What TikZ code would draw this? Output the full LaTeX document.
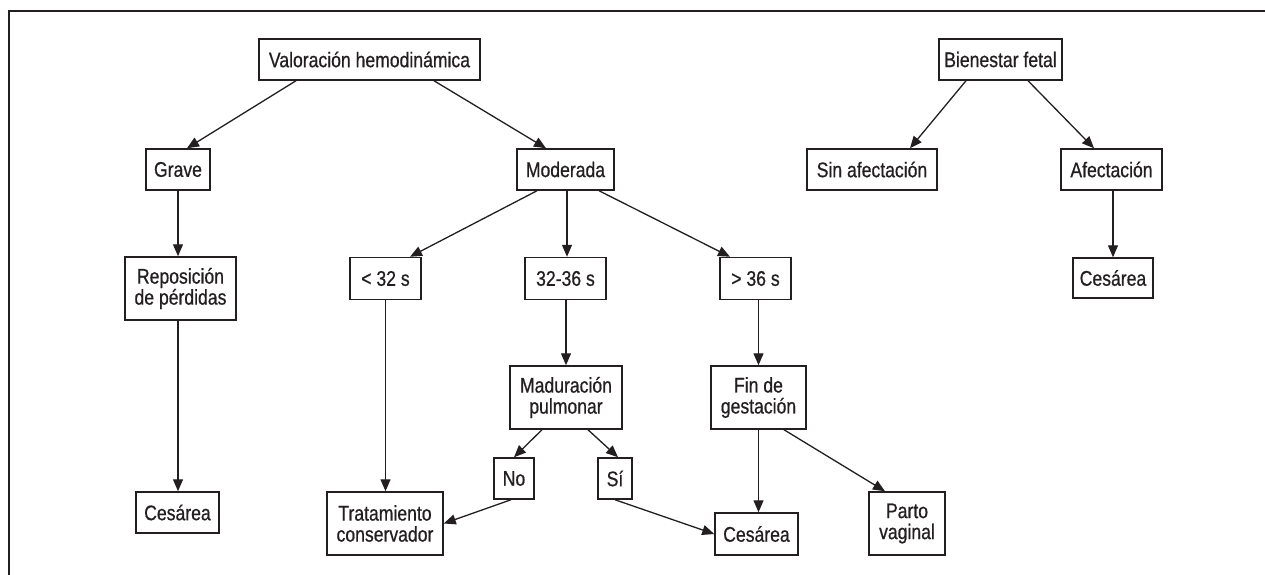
\documentclass[tikz,border=0pt]{standalone}
\usepackage{fontspec}
\setmainfont{Liberation Sans}[FakeStretch=0.83,FakeBold=0.6]
\usetikzlibrary{arrows.meta}
\definecolor{ink}{HTML}{231F20}
\begin{document}
\begin{tikzpicture}[x=1pt,y=-1pt,
  box/.style={draw=ink, line width=1.5pt, inner sep=0pt, align=center, text=ink,
    font=\fontsize{21.2}{21}\selectfont},
  arr/.style={draw=ink, line width=1.3pt, -{Triangle[length=12pt,width=10pt]}}]
\useasboundingbox (0,0) rectangle (1265,575);
\fill[white] (0,0) rectangle (1265,575);
\draw[ink, line width=1.3pt] (9,575) -- (9,11) -- (1265,11);
% nodes
\node[box, minimum width=221pt, minimum height=41pt] (val) at (369.5,59.5) {Valoración hemodinámica};
\node[box, minimum width=64pt, minimum height=41pt] (grave) at (178,169.5) {Grave};
\node[box, minimum width=97pt, minimum height=41pt] (mod) at (565.5,169.5) {Moderada};
\node[box, minimum width=123pt, minimum height=41pt] (bien) at (1000.5,59.5) {Bienestar fetal};
\node[box, minimum width=130pt, minimum height=41pt] (sin) at (872,169.5) {Sin afectación};
\node[box, minimum width=101pt, minimum height=41pt] (afec) at (1111.5,169.5) {Afectación};
\node[box, minimum width=80pt, minimum height=40pt] (ces3) at (1113,278) {Cesárea};
\node[box, minimum width=111pt, minimum height=63pt] (repo) at (180.5,288.5) {Reposición\\de pérdidas};
\node[box, minimum width=71pt, minimum height=42pt] (lt32) at (385.5,278.5) {< 32 s};
\node[box, minimum width=81pt, minimum height=42pt] (m3236) at (565.5,278.5) {32-36 s};
\node[box, minimum width=71pt, minimum height=42pt] (gt36) at (755.5,278.5) {> 36 s};
\node[box, minimum width=112pt, minimum height=63pt] (mad) at (566,397.5) {Maduración\\pulmonar};
\node[box, minimum width=95pt, minimum height=63pt] (fin) at (758.5,397.5) {Fin de\\gestación};
\node[box, minimum width=40pt, minimum height=41pt] (no) at (514,478.5) {No};
\node[box, minimum width=34pt, minimum height=41pt] (si) at (615,478.5) {Sí};
\node[box, minimum width=83pt, minimum height=42pt] (ces2) at (756.5,534) {Cesárea};
\node[box, minimum width=76pt, minimum height=63pt] (parto) at (907,523.5) {Parto\\vaginal};
\node[box, minimum width=83pt, minimum height=41pt] (ces1) at (177.5,512.5) {Cesárea};
\node[box, minimum width=116pt, minimum height=63pt] (trat) at (385,523.5) {Tratamiento\\conservador};
% connectors
\draw[arr] ([xshift=-73.5pt]val.south) -- ([xshift=9pt]grave.north);
\draw[arr] ([xshift=64.5pt]val.south) -- ([xshift=-19.5pt]mod.north);
\draw[arr] (grave.south) -- (grave.south |- repo.north);
\draw[arr] (grave.south |- repo.south) -- (grave.south |- ces1.north);
\draw[arr] ([xshift=-28.5pt]mod.south) -- ([xshift=24.5pt]lt32.north);
\draw[arr] ([xshift=1.5pt]m3236.north |- mod.south) -- ([xshift=1.5pt]m3236.north);
\draw[arr] ([xshift=33.5pt]mod.south) -- ([xshift=-25.5pt]gt36.north);
\draw[arr] (lt32.south) -- (lt32.south |- trat.north);
\draw[arr] (mad.north |- m3236.south) -- (mad.north);
\draw[arr] (fin.north |- gt36.south) -- (fin.north);
\draw[arr] ([xshift=-24pt]mad.south) -- (no.north);
\draw[arr] ([xshift=22pt]mad.south) -- ([xshift=3pt]si.north);
\draw[arr] ([xshift=-3pt]no.south) -- (trat.east);
\draw[arr] (si.south) -- (ces2.west);
\draw[arr] (fin.south) -- (fin.south |- ces2.north);
\draw[arr] ([xshift=25.5pt]fin.south) -- ([xshift=-22pt]parto.north);
\draw[arr] ([xshift=-34.5pt]bien.south) -- ([xshift=38pt]sin.north);
\draw[arr] ([xshift=27.5pt]bien.south) -- ([xshift=-17.5pt]afec.north);
\draw[arr] (ces3.north |- afec.south) -- (ces3.north);
\end{tikzpicture}
\end{document}
